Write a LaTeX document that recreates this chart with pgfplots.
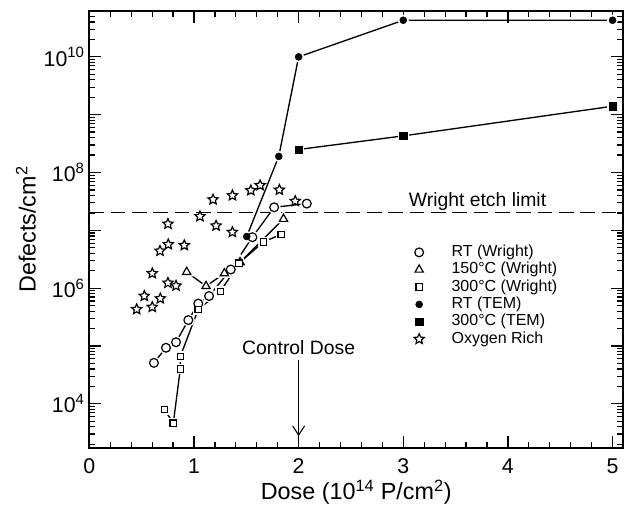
\documentclass[border=0pt]{standalone}
\usepackage{fontspec}
\setmainfont{Liberation Sans}
\usepackage{pgfplots}
\usepackage{pgfplotstable}
\pgfplotsset{compat=1.18}
\usetikzlibrary{arrows.meta}

% outlined five-pointed star
\pgfdeclareplotmark{ostar}{%
  \pgfpathmoveto{\pgfpointpolar{90}{\pgfplotmarksize}}%
  \pgfpathlineto{\pgfpointpolar{126}{0.47*\pgfplotmarksize}}%
  \pgfpathlineto{\pgfpointpolar{162}{\pgfplotmarksize}}%
  \pgfpathlineto{\pgfpointpolar{198}{0.47*\pgfplotmarksize}}%
  \pgfpathlineto{\pgfpointpolar{234}{\pgfplotmarksize}}%
  \pgfpathlineto{\pgfpointpolar{270}{0.47*\pgfplotmarksize}}%
  \pgfpathlineto{\pgfpointpolar{306}{\pgfplotmarksize}}%
  \pgfpathlineto{\pgfpointpolar{342}{0.47*\pgfplotmarksize}}%
  \pgfpathlineto{\pgfpointpolar{18}{\pgfplotmarksize}}%
  \pgfpathlineto{\pgfpointpolar{54}{0.47*\pgfplotmarksize}}%
  \pgfpathclose
  \pgfusepathqfillstroke
}

\pgfplotstableread{
x y
0.617 5.1e4
0.732 9.3e4
0.828 1.16e5
0.946 2.8e5
1.041 5.4e5
1.144 7.3e5
1.351 2.1e6
1.558 7.6e6
1.766 2.5e7
2.078 2.9e7
}\rtwright
\pgfplotstableread{
x y
0.930 1.9e6
1.115 1.08e6
1.290 1.8e6
1.440 2.8e6
1.855 1.57e7
}\hotwright
\pgfplotstableread{
x y
0.719 7.9e3
0.802 4.6e3
0.869 4.0e4
0.869 6.6e4
1.041 4.3e5
1.252 8.7e5
1.430 2.7e6
1.663 6.3e6
1.833 8.5e6
}\sqwright
\pgfplotstableread{
x y
1.504 7.8e6
1.810 1.9e8
2.000 1.0e10
3.000 4.3e10
5.000 4.3e10
}\rttem
\pgfplotstableread{
x y
2.000 2.5e8
3.000 4.3e8
5.000 1.4e9
}\sqtem
\pgfplotstableread{
x y
0.452 4.3e5
0.525 7.3e5
0.601 4.7e5
0.601 1.8e6
0.678 6.6e5
0.675 4.4e6
0.751 1.23e6
0.754 5.7e6
0.751 1.29e7
0.828 1.1e6
0.907 5.5e6
1.057 1.74e7
1.182 3.4e7
1.211 1.2e7
1.367 4.0e7
1.367 9.3e6
1.543 4.9e7
1.632 6.0e7
1.816 5.0e7
1.967 3.2e7
}\oxygen

\begin{document}
\begin{tikzpicture}
\begin{axis}[
  scale only axis,
  width=400pt, height=328pt,
  xmin=0, xmax=5.1,
  ymode=log, ymin=1.7e3, ymax=6.3e10,
  axis line style={line width=1.4pt},
  tick style={black, line width=0.9pt},
  major tick length=9pt, minor tick length=4.5pt,
  tick align=inside,
  xtick={0,1,2,3,4,5}, xticklabels={0,1,2,3,4,5},
  minor x tick num=4,
  ytick={1e3,1e4,1e5,1e6,1e7,1e8,1e9,1e10,1e11},
  yticklabels=\empty,
  extra y ticks={1e4,1e6,1e8,1e10},
  extra y tick labels={10\textsuperscript{4},10\textsuperscript{6},10\textsuperscript{8},10\textsuperscript{10}},
  tick label style={font=\fontsize{16}{16}\selectfont},
  x tick label style={yshift=-4.5pt},
  xlabel={Dose (10\textsuperscript{14} P/cm\textsuperscript{2})},
  ylabel={Defects/cm\textsuperscript{2}},
  label style={font=\fontsize{17.5}{17.5}\selectfont},
  xlabel style={at={(axis description cs:0.5,-0.1)}, anchor=center},
  ylabel style={at={(axis description cs:-0.119,0.5)}, anchor=center},
  legend style={draw=none, fill=none, inner sep=0pt,
    at={(0.608,0.468)}, anchor=north west,
    font=\fontsize{12}{12}\selectfont,
    nodes={inner ysep=0.5pt, inner xsep=2pt, text height=9pt, text depth=3pt},
    /tikz/every odd column/.append style={column sep=18.5pt}},
  legend cell align=left,
  clip=false,
]
% etch limit
\addplot[forget plot, line width=1.1pt, dash pattern=on 11pt off 5pt] coordinates {(0,2.05e7) (5.1,2.05e7)};

% connecting lines
\addplot[forget plot, no markers, line width=1pt] table {\rtwright};
\addplot[forget plot, no markers, line width=1pt] table {\hotwright};
\addplot[forget plot, no markers, line width=1pt] table {\sqwright};
\addplot[forget plot, no markers, line width=1pt] table {\rttem};
\addplot[forget plot, no markers, line width=1pt] table {\sqtem};

% white halos so the lines stop short of the symbols
\addplot[forget plot, only marks, mark=*, mark size=3.3pt, mark options={draw=white, fill=white, line width=3pt}] table {\rtwright};
\addplot[forget plot, only marks, mark=triangle*, mark size=3.6pt, mark options={draw=white, fill=white, line width=3pt}] table {\hotwright};
\addplot[forget plot, only marks, mark=square*, mark size=2.4pt, mark options={draw=white, fill=white, line width=3pt}] table {\sqwright};
\addplot[forget plot, only marks, mark=*, mark size=2.6pt, mark options={draw=white, fill=white, line width=3pt}] table {\rttem};
\addplot[forget plot, only marks, mark=square*, mark size=2.7pt, mark options={draw=white, fill=white, line width=3pt}] table {\sqtem};

% symbols
\addplot[only marks, mark=*, mark size=3.3pt, mark options={draw=black, fill=white, line width=0.9pt}] table {\rtwright};
\addplot[only marks, mark=triangle*, mark size=3.6pt, mark options={draw=black, fill=white, line width=0.9pt}] table {\hotwright};
\addplot[only marks, mark=square*, mark size=2.4pt, mark options={draw=black, fill=white, line width=0.9pt}] table {\sqwright};
\addplot[only marks, mark=*, mark size=2.6pt, mark options={draw=black, fill=black}] table {\rttem};
\addplot[only marks, mark=square*, mark size=2.7pt, mark options={draw=black, fill=black}] table {\sqtem};
\addplot[only marks, mark=ostar, mark size=4pt, mark options={draw=black, fill=white, line width=0.9pt}] table {\oxygen};
\legend{RT (Wright), 150°C (Wright), 300°C (Wright), RT (TEM), 300°C (TEM), Oxygen Rich}

\node[font=\fontsize{14.5}{14.5}\selectfont, anchor=south, inner sep=1pt] at (axis cs:3.71,2.05e7) {Wright etch limit};
\node[font=\fontsize{14.5}{14.5}\selectfont] at (axis cs:2,9.5e4) {Control Dose};
\draw[-{Straight Barb[length=7pt,width=9pt]}, line width=0.8pt] (axis cs:2,5.6e4) -- (axis cs:2,2.75e3);
\end{axis}
\pgfresetboundingbox
\path[use as bounding box] ([xshift=-67pt,yshift=-43.5pt]current axis.south west) rectangle ([xshift=7.5pt,yshift=8pt]current axis.north east);
\end{tikzpicture}
\end{document}
